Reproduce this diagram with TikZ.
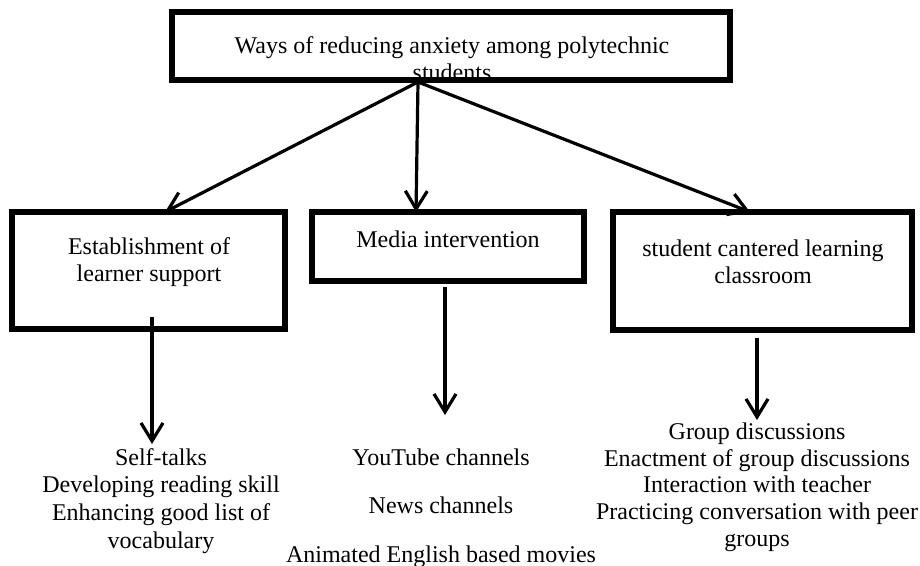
\documentclass[tikz,border=0pt]{standalone}
\usepackage{fontspec}
\setmainfont{Liberation Serif}
\usetikzlibrary{arrows.meta}
\begin{document}
\begin{tikzpicture}[x=0.5pt,y=-0.5pt,
  box/.style={draw, line width=2.6pt, rectangle, inner sep=0pt},
  lbl/.style={font=\fontsize{12}{13.8}\selectfont, align=center, inner sep=0pt, anchor=base},
  arr/.style={line width=1.6pt, -{Straight Barb[length=9pt,width=11pt]}}
]
\useasboundingbox (0,0) rectangle (920,566);

% boxes
\node[box, minimum width=279pt, minimum height=34pt] (top) at (451,46) {};
\node[box, minimum width=136.5pt, minimum height=58.5pt] (lb) at (148.5,270.5) {};
\node[box, minimum width=136pt, minimum height=34.5pt] (mb) at (448,246.5) {};
\node[box, minimum width=149.5pt, minimum height=59pt] (rb) at (762.5,271) {};

% top text, clipped by the inner edge of its box
\begin{scope}
  \clip (top.north west) rectangle ([yshift=1.3pt]top.south east);
  \node[lbl] (toptext) at (452,81) {Ways of reducing anxiety among polytechnic\\students};
\end{scope}

% box texts (anchor = baseline of last line)
\node[lbl] (lbt) at (149,282) {Establishment of\\learner support};
\node[lbl] (mbt) at (448,248) {Media intervention};
\node[lbl] (rbt) at (763,284) {student cantered learning\\classroom};

% connector end points
\coordinate (src) at (418,82);
\coordinate (t1) at (165,212);
\coordinate (t2) at (416,212);
\coordinate (t3) at (750,212);
\coordinate (l0) at (152,317);
\coordinate (l1) at (152,444);
\coordinate (m0) at (445,287);
\coordinate (m1) at (445,415);
\coordinate (r0) at (757,338);
\coordinate (r1) at (757,420);

\draw[arr] (src) -- (t1);
\draw[arr] (src) -- (t2);
\draw[arr] (src) -- (t3);
\draw[arr] (l0) -- (l1);
\draw[arr] (m0) -- (m1);
\draw[arr] (r0) -- (r1);

% lists
\node[lbl] (llist) at (161,548) {Self-talks\\Developing reading skill\\Enhancing good list of\\vocabulary};
\node[lbl] (m1t) at (441,465) {YouTube channels};
\node[lbl] (m2t) at (441,513) {News channels};
\node[lbl] (m3t) at (441,562) {Animated English based movies};
\node[lbl, font=\fontsize{12}{13.3}\selectfont] (rlist) at (757,546) {Group discussions\\Enactment of group discussions\\Interaction with teacher\\Practicing conversation with peer\\groups};
\end{tikzpicture}
\end{document}
